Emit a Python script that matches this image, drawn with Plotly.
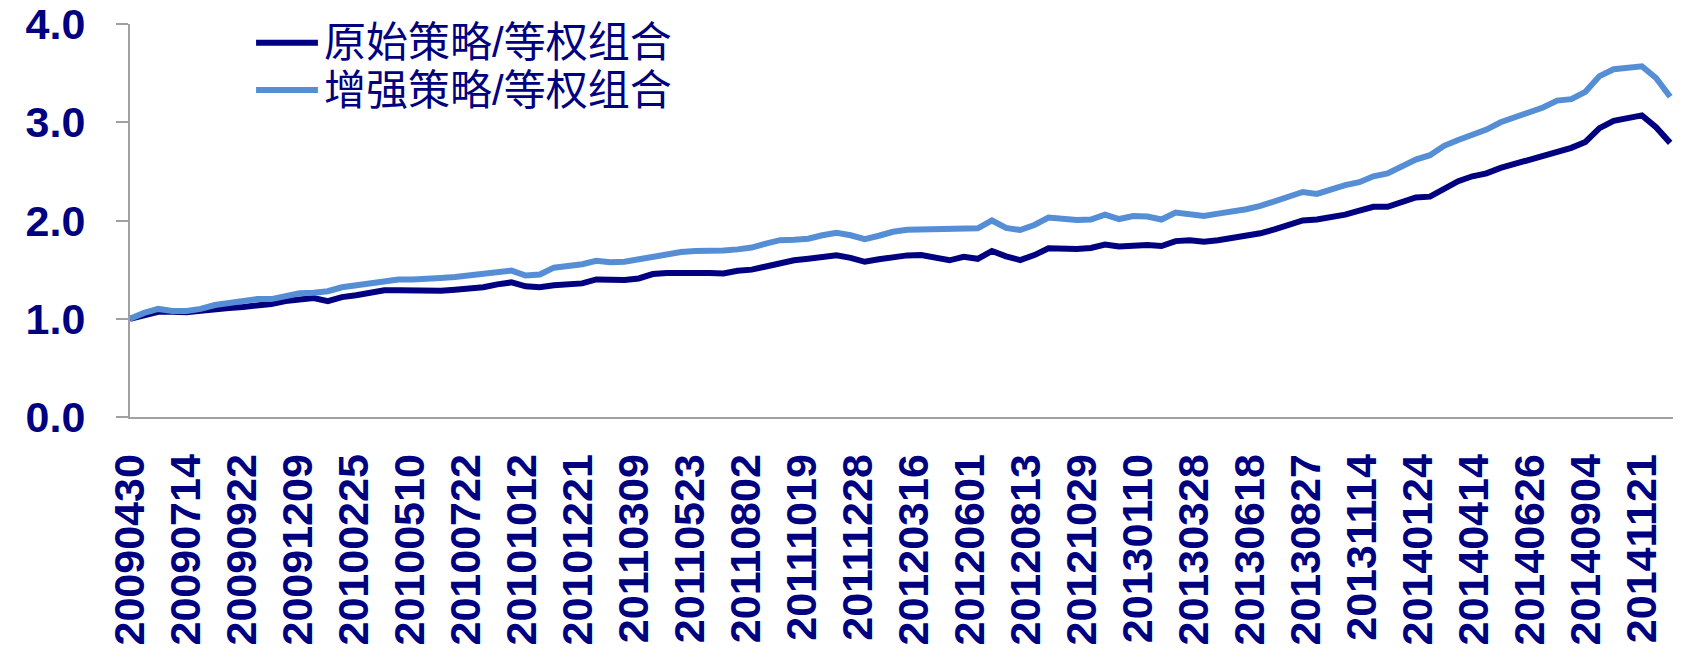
import plotly.graph_objects as go

# Tick labels (trading dates shown on the category axis)
date_labels = [
    "20090430", "20090714", "20090922", "20091209", "20100225", "20100510",
    "20100722", "20101012", "20101221", "20110309", "20110523", "20110802",
    "20111019", "20111228", "20120316", "20120601", "20120813", "20121029",
    "20130110", "20130328", "20130618", "20130827", "20131114", "20140124",
    "20140414", "20140626", "20140904", "20141121",
]

# Net value ratio series, sampled at regular intervals along the time axis
original_vs_equal = [
    1.00, 1.035, 1.07, 1.07, 1.065, 1.08, 1.10, 1.11, 1.12, 1.13,
    1.15, 1.18, 1.20, 1.21, 1.18, 1.22, 1.24, 1.26, 1.29, 1.29,
    1.285, 1.275, 1.285, 1.295, 1.30, 1.32, 1.35, 1.37, 1.33, 1.32,
    1.34, 1.343, 1.36, 1.40, 1.395, 1.395, 1.41, 1.455, 1.465, 1.468,
    1.468, 1.465, 1.46, 1.488, 1.50, 1.53, 1.57, 1.595, 1.61, 1.635,
    1.645, 1.62, 1.58, 1.605, 1.63, 1.645, 1.648, 1.62, 1.595, 1.63,
    1.61, 1.69, 1.635, 1.597, 1.648, 1.717, 1.71, 1.71, 1.72, 1.755,
    1.735, 1.745, 1.75, 1.74, 1.79, 1.80, 1.785, 1.80, 1.82, 1.845,
    1.87, 1.91, 1.955, 2.00, 2.01, 2.03, 2.06, 2.10, 2.14, 2.14,
    2.19, 2.235, 2.243, 2.32, 2.40, 2.45, 2.48, 2.535, 2.575, 2.61,
    2.65, 2.69, 2.74, 2.80, 2.94, 3.015, 3.045, 3.07, 2.95, 2.79,
]
enhanced_vs_equal = [
    1.00, 1.06, 1.10, 1.08, 1.08, 1.10, 1.14, 1.16, 1.19, 1.20,
    1.20, 1.23, 1.26, 1.265, 1.28, 1.32, 1.34, 1.36, 1.385, 1.40,
    1.40, 1.40, 1.415, 1.425, 1.44, 1.465, 1.485, 1.49, 1.44, 1.45,
    1.52, 1.535, 1.555, 1.59, 1.575, 1.58, 1.605, 1.63, 1.66, 1.68,
    1.69, 1.69, 1.695, 1.706, 1.725, 1.765, 1.80, 1.805, 1.815, 1.85,
    1.875, 1.85, 1.81, 1.845, 1.885, 1.905, 1.91, 1.91, 1.915, 1.93,
    1.92, 2.00, 1.925, 1.903, 1.954, 2.03, 2.015, 2.005, 2.01, 2.06,
    2.015, 2.045, 2.04, 2.01, 2.08, 2.07, 2.045, 2.07, 2.09, 2.115,
    2.148, 2.20, 2.25, 2.29, 2.27, 2.32, 2.36, 2.39, 2.45, 2.48,
    2.55, 2.62, 2.665, 2.76, 2.82, 2.875, 2.925, 3.00, 3.045, 3.09,
    3.15, 3.22, 3.235, 3.31, 3.47, 3.54, 3.56, 3.57, 3.45, 3.26,
]
series_names = ["原始策略/等权组合", "增强策略/等权组合"]
y_ticks = [0, 1, 2, 3, 4]

NAVY = "#000080"
LIGHT = "#558ED5"
FONT = "Liberation Sans, Arial, sans-serif"
LEGEND_FONT = "Liberation Sans, Noto Sans CJK SC, sans-serif"

samples_per_label = 3.964
x_idx = list(range(len(original_vs_equal)))

fig = go.Figure()
for name, vals, color in zip(series_names,
                             [original_vs_equal, enhanced_vs_equal],
                             [NAVY, LIGHT]):
    fig.add_trace(go.Scatter(
        x=x_idx, y=vals, mode="lines", name=name,
        line=dict(color=color, width=6), showlegend=False,
    ))

# Legend drawn in paper coordinates (line swatch + label)
legend_rows_y = [0.952, 0.832]
for name, color, ly in zip(series_names, [NAVY, LIGHT], legend_rows_y):
    fig.add_shape(type="line", xref="paper", yref="paper",
                  x0=0.0817, x1=0.1218, y0=ly, y1=ly,
                  line=dict(color=color, width=6))
    fig.add_annotation(text=name, xref="paper", yref="paper",
                       x=0.1244, y=ly, xanchor="left", yanchor="middle",
                       showarrow=False,
                       font=dict(family=LEGEND_FONT, size=42, color=NAVY))

fig.update_layout(
    width=1695, height=657,
    margin=dict(l=130, r=22, t=24, b=240),
    paper_bgcolor="white", plot_bgcolor="white",
    showlegend=False,
    xaxis=dict(
        range=[0, 109.2],
        tickmode="array",
        tickvals=[i * samples_per_label for i in range(len(date_labels))],
        ticktext=date_labels,
        tickangle=-90,
        tickfont=dict(family=FONT, size=43, color=NAVY, weight="bold"),
        ticks="", showgrid=False, zeroline=False,
        showline=True, linecolor="#A0A0A0", linewidth=2,
        ticklabelstandoff=18, automargin=False,
        ticklabeloverflow="allow",
    ),
    yaxis=dict(
        range=[0, 4],
        tickmode="array", tickvals=y_ticks, tickformat=".1f",
        tickfont=dict(family=FONT, size=43, color=NAVY, weight="bold"),
        ticks="outside", ticklen=12, tickcolor="#A0A0A0", tickwidth=2,
        showgrid=False, zeroline=False,
        showline=True, linecolor="#A0A0A0", linewidth=2,
        ticklabelstandoff=22, automargin=False,
        ticklabeloverflow="allow",
    ),
)

fig.write_html(
    "out.html",
    config={"displayModeBar": False},
    post_script="document.body.style.margin='0';"
                "document.body.style.overflow='hidden';",
)
